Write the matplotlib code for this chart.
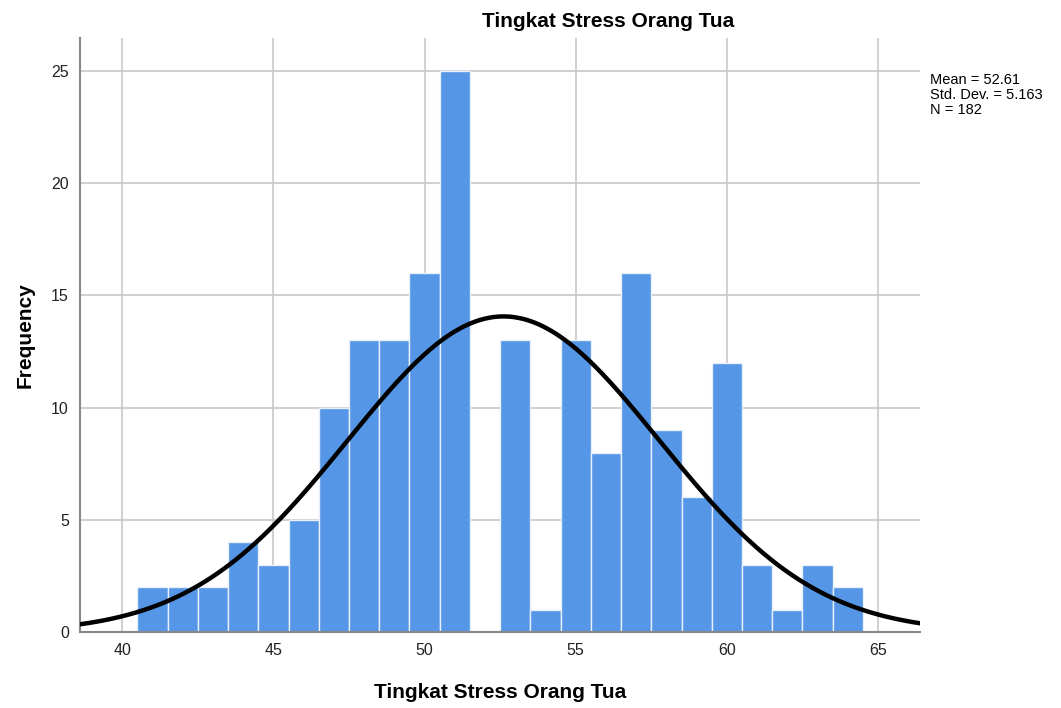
import numpy as np
import matplotlib
matplotlib.use("Agg")
from matplotlib import pyplot as plt

plt.rcParams['font.family'] = ['Liberation Sans', 'DejaVu Sans']

# data (bins of width 1, centred on integers)
scores = [41, 42, 43, 44, 45, 46, 47, 48, 49, 50, 51, 52,
          53, 54, 55, 56, 57, 58, 59, 60, 61, 62, 63, 64]
counts = [2, 2, 2, 4, 3, 5, 10, 13, 13, 16, 25, 0,
          13, 1, 13, 8, 16, 9, 6, 12, 3, 1, 3, 2]
mean = 52.61
sd = 5.163
n = 182
x_ticks = [40, 45, 50, 55, 60, 65]
y_ticks = [0, 5, 10, 15, 20, 25]

fig = plt.figure(figsize=(10.61, 7.08), dpi=100)
ax = fig.add_axes([0.0754, 0.107, 0.792, 0.839])

ax.bar(scores, counts, width=1.0, color='#5596e6', edgecolor='#e8f0fb',
       linewidth=1.0, zorder=2)

xmin, xmax = 38.6, 66.4
xs = np.linspace(xmin, xmax, 400)
pdf = n * np.exp(-0.5 * ((xs - mean) / sd) ** 2) / (sd * np.sqrt(2 * np.pi))
ax.plot(xs, pdf, color='black', linewidth=3.2, zorder=3)

ax.set_xlim(xmin, xmax)
ax.set_ylim(0, 26.45)
ax.set_xticks(x_ticks)
ax.set_yticks(y_ticks)
ax.grid(True, color='#c8c8c8', linewidth=1.2, zorder=0)
ax.set_axisbelow(True)
for s in ['top', 'right']:
    ax.spines[s].set_visible(False)
ax.spines['left'].set_color('#888888')
ax.spines['bottom'].set_color('#888888')
ax.spines['left'].set_linewidth(1.5)
ax.spines['bottom'].set_linewidth(1.5)
ax.tick_params(length=0, labelsize=11.5, colors='#222222', pad=8)

ax.set_xlabel('Tingkat Stress Orang Tua', fontsize=15, fontweight='bold', labelpad=18)
ax.set_ylabel('Frequency', fontsize=15, fontweight='bold', labelpad=12)
fig.text(0.573, 0.97, 'Tingkat Stress Orang Tua', ha='center', va='center',
         fontsize=15, fontweight='bold')

fig.text(0.877, 0.866, 'Mean = %.2f\nStd. Dev. = %.3f\nN = %d' % (mean, sd, n),
         ha='left', va='center', fontsize=10.5, linespacing=1.1)

fig.savefig('out.png', dpi=100)
